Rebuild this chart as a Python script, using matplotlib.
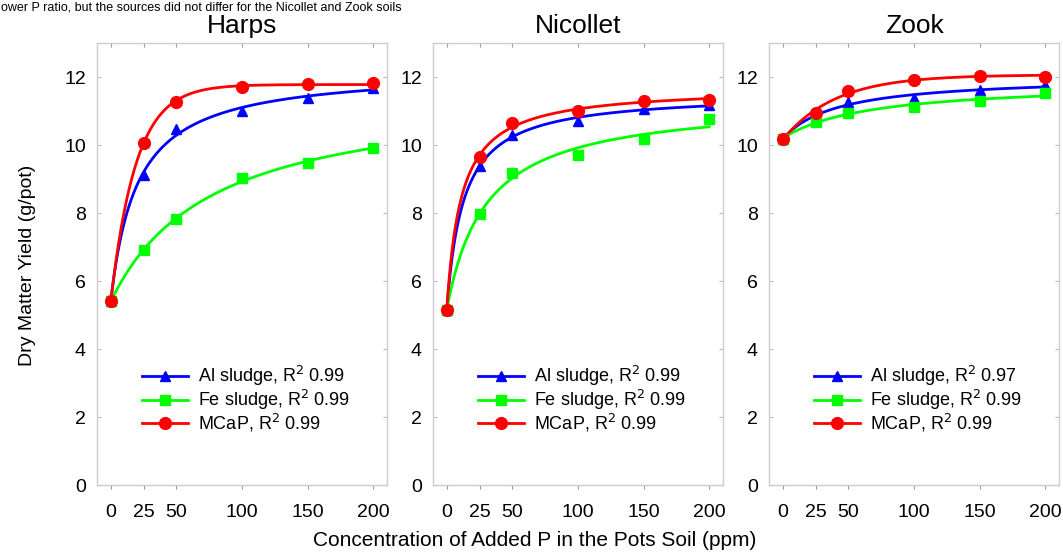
import numpy as np
import matplotlib
matplotlib.use("Agg")
import matplotlib.pyplot as plt

plt.rcParams['font.family'] = ['Liberation Sans', 'DejaVu Sans']

# ---- data ----
p_added = [0, 25, 50, 100, 150, 200]
xtick_labels = ['0', '25', '50', '100', '150', '200']
soils = ['Harps', 'Nicollet', 'Zook']

al_harps = [5.4, 9.12, 10.46, 11.01, 11.39, 11.67]
fe_harps = [5.4, 6.91, 7.82, 9.02, 9.46, 9.92]
mcap_harps = [5.4, 10.07, 11.27, 11.71, 11.78, 11.83]

al_nicollet = [5.15, 9.38, 10.29, 10.71, 11.06, 11.18]
fe_nicollet = [5.15, 7.97, 9.17, 9.71, 10.17, 10.76]
mcap_nicollet = [5.15, 9.64, 10.66, 11.01, 11.29, 11.32]

al_zook = [10.18, 10.85, 11.27, 11.37, 11.62, 11.76]
fe_zook = [10.18, 10.69, 10.93, 11.13, 11.29, 11.52]
mcap_zook = [10.18, 10.95, 11.59, 11.91, 12.04, 12.01]

r2_al = ['0.99', '0.99', '0.97']
r2_fe = ['0.99', '0.99', '0.99']
r2_mcap = ['0.99', '0.99', '0.99']

series_names = ['Al sludge', 'Fe sludge', 'MCaP']
colors = ['#0000ff', '#00ff00', '#ff0000']
markers = ['^', 's', 'o']
msizes = [7, 7, 8.5]


def fit_curve(x, y):
    """Least-squares fit of a saturating model (exponential or hyperbolic)."""
    x = np.asarray(x, float)
    y = np.asarray(y, float)
    best = None
    for kind in ('exp', 'hyp'):
        grid = np.linspace(0.002, 0.2, 600) if kind == 'exp' else np.linspace(0.5, 150, 600)
        for k in grid:
            g = 1 - np.exp(-k * x) if kind == 'exp' else x / (k + x)
            A = np.column_stack([np.ones_like(x), g])
            coef, *_ = np.linalg.lstsq(A, y, rcond=None)
            sse = np.sum((A @ coef - y) ** 2)
            if best is None or sse < best[0]:
                best = (sse, kind, k, coef)
    _, kind, k, coef = best
    xs = np.linspace(x.min(), x.max(), 300)
    g = 1 - np.exp(-k * xs) if kind == 'exp' else xs / (k + xs)
    return xs, coef[0] + coef[1] * g


data = [
    [al_harps, fe_harps, mcap_harps],
    [al_nicollet, fe_nicollet, mcap_nicollet],
    [al_zook, fe_zook, mcap_zook],
]
r2s = [r2_al, r2_fe, r2_mcap]

fig = plt.figure(figsize=(10.63, 5.55), dpi=100)
W, H = 1063, 555
lefts = [97, 433, 769]
aw = 290
bottom_px, top_px = 485, 43

axes = []
for i, soil in enumerate(soils):
    ax = fig.add_axes([lefts[i] / W, 1 - bottom_px / H, aw / W, (bottom_px - top_px) / H])
    axes.append(ax)
    handles = []
    for j in range(3):
        ys = data[i][j]
        xs_f, ys_f = fit_curve(p_added, ys)
        ax.plot(xs_f, ys_f, color=colors[j], lw=2.0, zorder=2)
        ax.plot(p_added, ys, linestyle='none', marker=markers[j], ms=msizes[j],
                color=colors[j], zorder=3)
        h, = ax.plot([], [], color=colors[j], lw=2.0, marker=markers[j], ms=msizes[j])
        h.set_label(f"{series_names[j]}, R$^2$ {r2s[j][i]}")
        handles.append(h)
    ax.set_xlim(-10.5, 210.5)
    ax.set_ylim(0, 13)
    ax.set_yticks(range(0, 13, 2))
    ax.set_xticks(p_added)
    ax.set_xticklabels(xtick_labels)
    ax.tick_params(axis='y', direction='in', left=True, right=True, length=3,
                   color='#bbbbbb', labelsize=14, pad=8)
    ax.tick_params(axis='x', direction='out', length=3, color='#999999',
                   labelsize=14, pad=11)
    sec = ax.secondary_xaxis('top')
    sec.set_xticks(p_added)
    sec.tick_params(direction='in', length=3, color='#999999', labeltop=False)
    sec.spines['top'].set_visible(False)
    for s in ax.spines.values():
        s.set_color('#cccccc')
        s.set_linewidth(1.0)
    ax.set_title(soil, fontsize=19, pad=7)
    ax.legend(handles=handles, loc='upper left', bbox_to_anchor=(0.155, 0.274),
              frameon=False, fontsize=13, handlelength=2.55, handletextpad=0.55,
              labelspacing=0.0, borderpad=0, borderaxespad=0)

fig.text(28 / W, 1 - 265 / H, 'Dry Matter Yield (g/pot)', rotation=90,
         ha='center', va='center', fontsize=14)
fig.text(535 / W, 1 - 541 / H, 'Concentration of Added P in the Pots Soil (ppm)',
         ha='center', va='center', fontsize=15)
fig.text(1 / W, 1 - 1 / H, 'ower P ratio, but the sources did not differ for the Nicollet and Zook soils',
         ha='left', va='top', fontsize=9)

fig.savefig('out.png', dpi=100)
